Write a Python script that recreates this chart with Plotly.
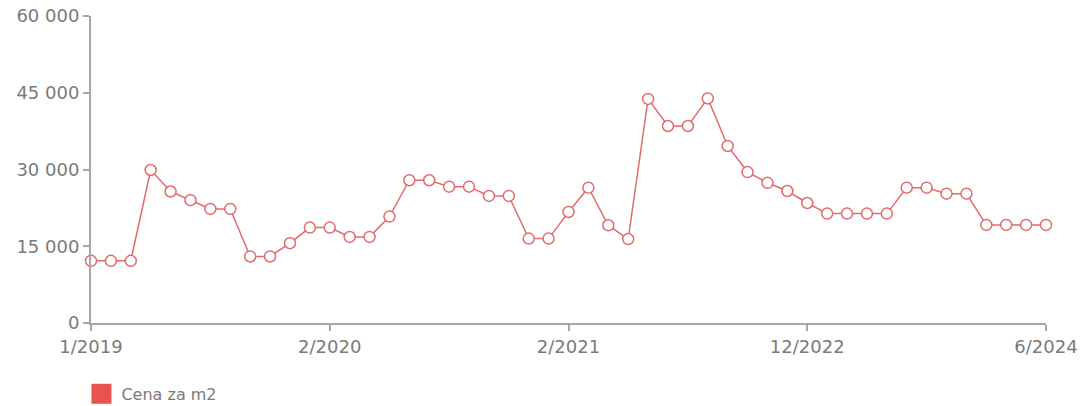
import plotly.graph_objects as go

# Data
period_index = list(range(49))
price_per_m2 = [
    12150, 12150, 12150, 29900, 25700, 24000, 22300, 22300, 13000, 13000,
    15600, 18650, 18650, 16830, 16830, 20800, 27900, 27900, 26650, 26650,
    24830, 24830, 16500, 16500, 21700, 26450, 19100, 16400, 43800, 38500,
    38500, 43900, 34600, 29500, 27400, 25800, 23450, 21380, 21380, 21380,
    21380, 26450, 26450, 25280, 25280, 19170, 19170, 19170, 19170,
]
tick_positions = [0, 12, 24, 36, 48]
tick_labels = ["1/2019", "2/2020", "2/2021", "12/2022", "6/2024"]
y_ticks = [0, 15000, 30000, 45000, 60000]
series_name = "Cena za m2"

LINE_COLOR = "#e36b6b"
LEGEND_COLOR = "#e8534f"
TEXT_COLOR = "#7a7a7a"
AXIS_COLOR = "#a6a6a6"
FONT = "DejaVu Sans"

fig = go.Figure()
fig.add_trace(go.Scatter(
    x=period_index,
    y=price_per_m2,
    mode="lines+markers",
    line=dict(color=LINE_COLOR, width=1.5),
    marker=dict(symbol="circle", size=11, color="white",
                line=dict(color=LINE_COLOR, width=1.5)),
    cliponaxis=False,
    showlegend=False,
    name=series_name,
))
# legend entry (filled square like the reference)
fig.add_trace(go.Scatter(
    x=[None], y=[None],
    mode="markers",
    marker=dict(symbol="square", size=16, color=LEGEND_COLOR,
                line=dict(color=LEGEND_COLOR, width=4)),
    name=series_name,
    showlegend=True,
))

fig.update_layout(
    width=1084, height=406,
    margin=dict(l=91, r=38, t=16, b=83, pad=0, autoexpand=False),
    paper_bgcolor="white", plot_bgcolor="white",
    separators=", ",
    font=dict(family=FONT, size=18, color=TEXT_COLOR),
    legend=dict(
        orientation="h", x=-0.01, xanchor="left", y=-0.175, yanchor="top",
        font=dict(family=FONT, size=16, color=TEXT_COLOR),
        itemsizing="trace", bgcolor="rgba(0,0,0,0)",
    ),
    xaxis=dict(
        range=[0, 48], tickmode="array", tickvals=tick_positions, ticktext=tick_labels,
        automargin=False,
        showgrid=False, zeroline=False, showline=True, linecolor=AXIS_COLOR, linewidth=2,
        ticks="outside", ticklen=6, tickwidth=1.5, tickcolor=AXIS_COLOR,
        tickfont=dict(family=FONT, size=18, color=TEXT_COLOR),
    ),
    yaxis=dict(
        range=[0, 60000], tickmode="array", tickvals=y_ticks,
        tickformat=",d", automargin=False,
        showgrid=False, zeroline=False, showline=True, linecolor=AXIS_COLOR, linewidth=2,
        ticks="outside", ticklen=6, tickwidth=1.5, tickcolor=AXIS_COLOR,
        tickfont=dict(family=FONT, size=18, color=TEXT_COLOR),
    ),
)

fig.write_html("out.html")
